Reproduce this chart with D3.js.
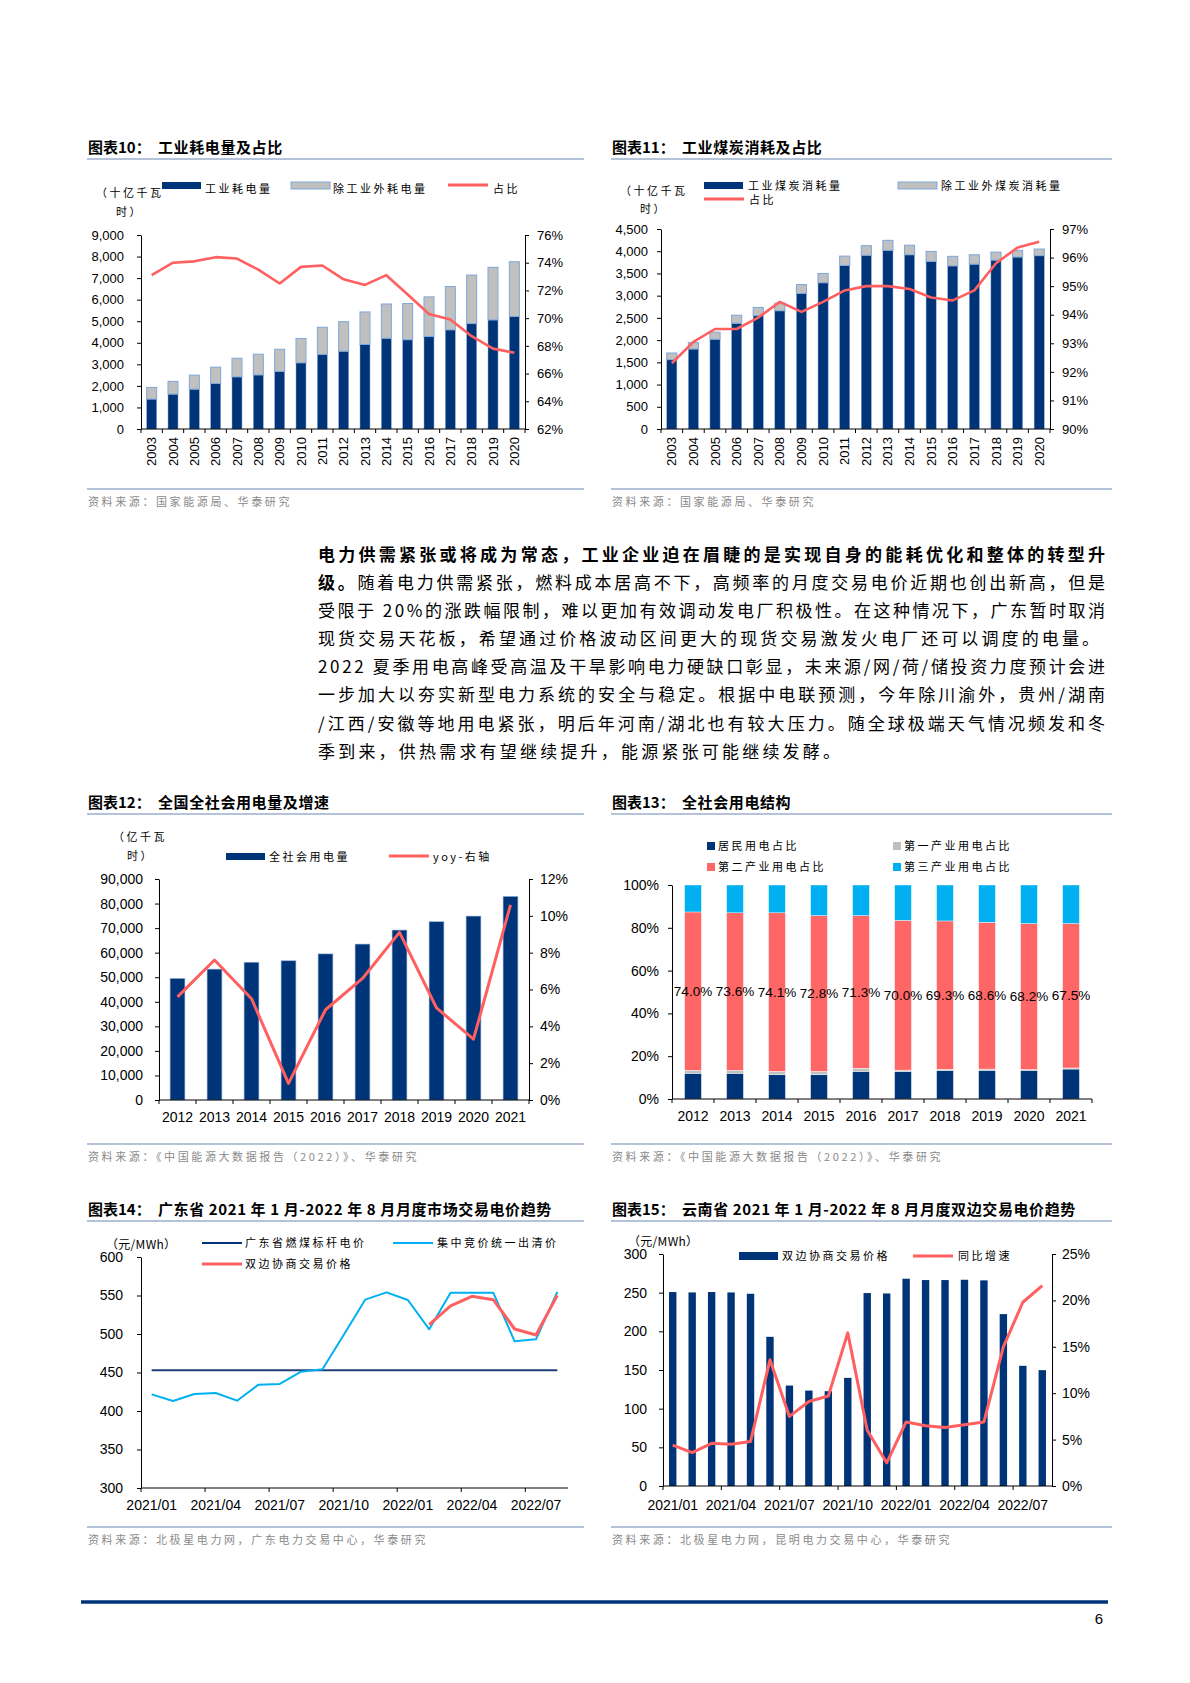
<!DOCTYPE html>
<html>
<head>
<meta charset="utf-8">
<script src="https://cdn.jsdelivr.net/npm/d3@7"></script>
<style>
  body { margin: 0; background: #fff; }
</style>
</head>
<body>
<script>
//=== Data ===
// chart 10: industrial power consumption (十亿千瓦时)
const years10 = ["2003","2004","2005","2006","2007","2008","2009","2010","2011","2012","2013","2014","2015","2016","2017","2018","2019","2020"];
const indPower10 = [1390,1620,1850,2110,2420,2510,2670,3070,3460,3610,3920,4210,4140,4290,4600,4890,5060,5220];
const otherPower10 = [540,590,650,760,860,960,1030,1130,1260,1370,1510,1590,1680,1840,2010,2250,2440,2540];
const share10 = [73.1,74.0,74.1,74.4,74.3,73.5,72.5,73.7,73.8,72.8,72.4,73.1,71.7,70.3,69.9,68.7,67.8,67.5];
const leftTicks10 = [0,1000,2000,3000,4000,5000,6000,7000,8000,9000];
const rightTicks10 = [62,64,66,68,70,72,74,76];

// chart 11: industrial coal consumption
const years11 = ["2003","2004","2005","2006","2007","2008","2009","2010","2011","2012","2013","2014","2015","2016","2017","2018","2019","2020"];
const indCoal11 = [1560,1800,2020,2380,2550,2660,3050,3290,3680,3910,4020,3920,3770,3670,3710,3800,3870,3900];
const otherCoal11 = [150,145,160,180,185,170,200,210,210,215,225,215,225,215,210,180,150,150];
const share11 = [92.3,93.05,93.5,93.5,93.9,94.45,94.1,94.45,94.85,95.0,95.0,94.9,94.6,94.5,94.85,95.8,96.35,96.55];
const leftTicks11 = [0,500,1000,1500,2000,2500,3000,3500,4000,4500];
const rightTicks11 = [90,91,92,93,94,95,96,97];

// chart 12: total power consumption (亿千瓦时) and yoy
const years12 = ["2012","2013","2014","2015","2016","2017","2018","2019","2020","2021"];
const power12 = [49500,53300,56100,56700,59500,63500,69200,72600,74900,82900];
const yoy12 = [5.6,7.6,5.5,0.9,4.9,6.6,9.1,5.0,3.3,10.6];
const leftTicks12 = [0,10000,20000,30000,40000,50000,60000,70000,80000,90000];
const rightTicks12 = [0,2,4,6,8,10,12];

// chart 13: structure of power use (%)
const years13 = ["2012","2013","2014","2015","2016","2017","2018","2019","2020","2021"];
const resident13 = [12.0,12.0,11.3,11.3,12.9,12.9,13.4,13.4,13.4,14.0];
const primary13 = [1.4,1.4,1.6,1.6,1.5,0.6,0.5,0.6,0.4,0.5];
const secondary13 = [74.0,73.6,74.1,72.8,71.3,70.0,69.3,68.6,68.2,67.5];
const tertiary13 = [12.6,13.0,13.0,14.3,14.3,16.5,16.8,17.4,18.0,18.0];
const ticks13 = [0,20,40,60,80,100];

// chart 14: Guangdong monthly prices (元/MWh)
const months = ["2021/01","2021/02","2021/03","2021/04","2021/05","2021/06","2021/07","2021/08","2021/09","2021/10",
                "2021/11","2021/12","2022/01","2022/02","2022/03","2022/04","2022/05","2022/06","2022/07","2022/08"];
const monthLabels = ["2021/01","2021/04","2021/07","2021/10","2022/01","2022/04","2022/07"];
const benchmark14 = [453,453,453,453,453,453,453,453,453,453,453,453,453,453,453,453,453,453,453,453];
const auction14 = [421.6,413.0,422.1,423.4,413.4,434.2,435.1,451.1,454.1,499.0,544.6,554.1,544.2,506.1,553.7,553.7,553.7,490.5,493.1,554.5];
const bilateral14 = [null,null,null,null,null,null,null,null,null,null,null,null,null,512.1,536.4,548.9,544.6,506.5,498.7,550.2];
const ticks14 = [300,350,400,450,500,550,600];

// chart 15: Yunnan bilateral price and yoy
const price15 = [250.8,250.3,250.8,250.3,248.6,192.9,129.9,123.4,122.6,139.8,249.5,249.0,268.0,266.3,266.3,266.7,265.9,222.3,155.4,149.8];
const yoy15 = [4.4,3.6,4.6,4.5,4.8,13.6,7.5,9.1,9.7,16.5,6.0,2.5,6.9,6.5,6.3,6.6,6.9,15.0,19.8,21.6];
const leftTicks15 = [0,50,100,150,200,250,300];
const rightTicks15 = [0,5,10,15,20,25];

// body text
const paraLines = [
  [["电力供需紧张或将成为常态，工业企业迫在眉睫的是实现自身的能耗优化和整体的转型升", true]],
  [["级。", true], ["随着电力供需紧张，燃料成本居高不下，高频率的月度交易电价近期也创出新高，但是", false]],
  [["受限于 20%的涨跌幅限制，难以更加有效调动发电厂积极性。在这种情况下，广东暂时取消", false]],
  [["现货交易天花板，希望通过价格波动区间更大的现货交易激发火电厂还可以调度的电量。", false]],
  [["2022 夏季用电高峰受高温及干旱影响电力硬缺口彰显，未来源/网/荷/储投资力度预计会进", false]],
  [["一步加大以夯实新型电力系统的安全与稳定。根据中电联预测，今年除川渝外，贵州/湖南", false]],
  [["/江西/安徽等地用电紧张，明后年河南/湖北也有较大压力。随全球极端天气情况频发和冬", false]],
  [["季到来，供热需求有望继续提升，能源紧张可能继续发酵。", false]]
];

//=== Styles ===
const NAVY = "#003478", GRAY = "#c0c0c0", EDGE = "#7fa7d9", RED = "#ff5f5f", CYAN = "#00b0f0";
const RULE = "#6d88b5", SRC = "#8a8a8a";
const CJK = "'Noto Sans CJK SC', sans-serif", LAT = "'Liberation Sans', Arial, sans-serif";

const svg = d3.select("body").append("svg")
  .attr("width", 1190).attr("height", 1683).style("display", "block");
svg.append("rect").attr("width", 1190).attr("height", 1683).attr("fill", "#fff");

//=== Helpers ===
function chartTitle(x0, x1, y, num, text) {
  const t = svg.append("text").attr("x", x0 + 1).attr("y", y).attr("dy", "0.35em")
    .attr("font-family", CJK).attr("font-weight", "bold").attr("font-size", 15).attr("fill", "#000");
  t.append("tspan").text(num);
  t.append("tspan").attr("x", x0 + 71).attr("letter-spacing", 0.6).text(text);
  svg.append("line").attr("x1", x0).attr("x2", x1).attr("y1", y + 11).attr("y2", y + 11)
    .attr("stroke", RULE).attr("stroke-width", 1.2);
}

function sourceNote(x0, x1, y, text) {
  svg.append("line").attr("x1", x0).attr("x2", x1).attr("y1", y).attr("y2", y)
    .attr("stroke", RULE).attr("stroke-width", 1.2);
  svg.append("text").attr("x", x0 + 1).attr("y", y + 13).attr("dy", "0.35em")
    .attr("font-family", CJK).attr("font-size", 11).attr("letter-spacing", 2.6)
    .attr("fill", SRC).text(text);
}

function label(x, y, s, size = 11, ls = 2.5, font = CJK) {
  return svg.append("text").attr("x", x).attr("y", y).attr("dy", "0.35em")
    .attr("font-family", font).attr("font-size", size).attr("letter-spacing", ls)
    .attr("fill", "#000").text(s);
}

function legRect(x, y, w, h, fill, stroke) {
  svg.append("rect").attr("x", x).attr("y", y).attr("width", w).attr("height", h)
    .attr("fill", fill).attr("stroke", stroke || "none");
}

function legLine(x, y, color, sw) {
  svg.append("line").attr("x1", x).attr("x2", x + 40).attr("y1", y).attr("y2", y)
    .attr("stroke", color).attr("stroke-width", sw);
}

function yAxis(x, scale, ticks, fmt, side, pad, fs) {
  const ax = (side === "left" ? d3.axisLeft(scale) : d3.axisRight(scale))
    .tickValues(ticks).tickFormat(fmt).tickSize(4).tickSizeOuter(0).tickPadding(pad);
  const g = svg.append("g").attr("transform", `translate(${x},0)`).call(ax);
  g.attr("font-family", LAT).attr("font-size", fs);
  g.select(".domain").attr("stroke", "#000");
  g.selectAll(".tick line").attr("stroke", "#000");
  g.selectAll(".tick text").attr("fill", "#000");
  return g;
}

function xBase(x0, x1, y, bounds) {
  svg.append("line").attr("x1", x0).attr("x2", x1).attr("y1", y).attr("y2", y).attr("stroke", "#000");
  svg.append("g").selectAll("line").data(bounds).join("line")
    .attr("x1", d => d).attr("x2", d => d).attr("y1", y).attr("y2", y + 4).attr("stroke", "#000");
}

// edges of each category of a band scale
function bandBounds(x, domain) {
  const half = x.bandwidth() / 2, st = x.step();
  return domain.map(d => x(d) + half - st / 2).concat([x(domain[domain.length - 1]) + half + st / 2]);
}

//=== Chart 10 / 11: stacked bars + share line ===
function stackedChart(cfg) {
  const { cats, base, rest, share, xr, yr, yMax, rDom, lt, rt, lPad, rPad } = cfg;
  const x = d3.scaleBand().domain(cats).range(xr).paddingInner(0.53).paddingOuter(0.265);
  const y = d3.scaleLinear().domain([0, yMax]).range(yr);
  const r = d3.scaleLinear().domain(rDom).range(yr);
  const bw = x.bandwidth();

  svg.append("g").selectAll("rect").data(cats).join("rect")
    .attr("x", d => x(d)).attr("width", bw)
    .attr("y", (d, i) => y(base[i])).attr("height", (d, i) => y(0) - y(base[i]))
    .attr("fill", NAVY).attr("stroke", "#8fb0dc").attr("stroke-width", 0.5);
  svg.append("g").selectAll("rect").data(cats).join("rect")
    .attr("x", d => x(d)).attr("width", bw)
    .attr("y", (d, i) => y(base[i] + rest[i]))
    .attr("height", (d, i) => y(base[i]) - y(base[i] + rest[i]))
    .attr("fill", GRAY).attr("stroke", EDGE).attr("stroke-width", 1);

  const line = d3.line().x((d, i) => x(cats[i]) + bw / 2).y(d => r(d));
  svg.append("path").datum(share).attr("d", line)
    .attr("fill", "none").attr("stroke", RED).attr("stroke-width", 2.6).attr("stroke-linejoin", "round");

  yAxis(xr[0], y, lt, d3.format(","), "left", lPad, 13);
  yAxis(xr[1], r, rt, d => d + "%", "right", rPad, 13);
  xBase(xr[0], xr[1], yr[0], bandBounds(x, cats));

  svg.append("g").selectAll("text").data(cats).join("text")
    .attr("transform", d => `translate(${x(d) + bw / 2},${yr[0] + 8}) rotate(-90)`)
    .attr("text-anchor", "end").attr("dy", "0.35em")
    .attr("font-family", LAT).attr("font-size", 13).attr("fill", "#000").text(d => d);
}

chartTitle(87, 584, 148, "图表10：", "工业耗电量及占比");
legRect(162, 182, 39, 7, NAVY);
label(205, 189, "工业耗电量");
legRect(291, 182, 39, 7, GRAY, EDGE);
label(333, 189, "除工业外耗电量");
legLine(448, 185, RED, 3);
label(493, 189, "占比");
label(96, 193, "（十亿千瓦");
label(116, 212, "时）");
stackedChart({ cats: years10, base: indPower10, rest: otherPower10, share: share10,
  xr: [141, 525], yr: [429, 235], yMax: 9000, rDom: [62, 76],
  lt: leftTicks10, rt: rightTicks10, lPad: 13, rPad: 8 });
sourceNote(87, 584, 489, "资料来源：国家能源局、华泰研究");

chartTitle(611, 1112, 148, "图表11：", "工业煤炭消耗及占比");
legRect(704, 182, 39, 7, NAVY);
label(748, 186, "工业煤炭消耗量");
legRect(898, 182, 39, 7, GRAY, EDGE);
label(941, 186, "除工业外煤炭消耗量");
legLine(704, 199, RED, 3);
label(749, 200, "占比");
label(620, 191, "（十亿千瓦");
label(640, 209, "时）");
stackedChart({ cats: years11, base: indCoal11, rest: otherCoal11, share: share11,
  xr: [661, 1050], yr: [429, 229], yMax: 4500, rDom: [90, 97],
  lt: leftTicks11, rt: rightTicks11, lPad: 9, rPad: 8 });
sourceNote(611, 1112, 489, "资料来源：国家能源局、华泰研究");

//=== Body paragraph ===
paraLines.forEach((parts, i) => {
  const t = svg.append("text").attr("x", 318).attr("y", 555 + i * 28.1).attr("dy", "0.35em")
    .attr("font-family", CJK).attr("font-size", 17).attr("fill", "#000");
  if (i < 7) t.attr("textLength", i === 3 ? 781 : 787).attr("lengthAdjust", "spacing");
  else t.attr("letter-spacing", 3.2);
  parts.forEach(([s, bold]) => t.append("tspan").attr("font-weight", bold ? "bold" : "normal").text(s));
});

//=== Chart 12: total consumption + yoy ===
chartTitle(87, 584, 803, "图表12：", "全国全社会用电量及增速");
label(113, 837, "（亿千瓦");
label(127, 856, "时）");
legRect(226, 853, 39, 7, NAVY);
label(269, 857, "全社会用电量");
legLine(389, 856, RED, 3);
label(433, 857, "yoy-右轴");
{
  const x = d3.scaleBand().domain(years12).range([159, 529]).paddingInner(0.6).paddingOuter(0.3);
  const y = d3.scaleLinear().domain([0, 90000]).range([1100, 879]);
  const r = d3.scaleLinear().domain([0, 12]).range([1100, 879]);
  const bw = x.bandwidth();
  svg.append("g").selectAll("rect").data(years12).join("rect")
    .attr("x", d => x(d)).attr("width", bw)
    .attr("y", (d, i) => y(power12[i])).attr("height", (d, i) => y(0) - y(power12[i]))
    .attr("fill", NAVY).attr("stroke", "#8fb0dc").attr("stroke-width", 0.6);
  svg.append("path").datum(yoy12)
    .attr("d", d3.line().x((d, i) => x(years12[i]) + bw / 2).y(d => r(d)))
    .attr("fill", "none").attr("stroke", RED).attr("stroke-width", 3).attr("stroke-linejoin", "round");
  yAxis(159, y, leftTicks12, d3.format(","), "left", 12, 14);
  yAxis(529, r, rightTicks12, d => d + "%", "right", 7, 14);
  xBase(159, 529, 1100, bandBounds(x, years12));
  svg.append("g").selectAll("text").data(years12).join("text")
    .attr("x", d => x(d) + bw / 2).attr("y", 1117).attr("dy", "0.35em").attr("text-anchor", "middle")
    .attr("font-family", LAT).attr("font-size", 14).attr("fill", "#000").text(d => d);
}
sourceNote(87, 584, 1144, "资料来源：《中国能源大数据报告（2022）》、华泰研究");

//=== Chart 13: 100% stacked structure ===
chartTitle(611, 1112, 803, "图表13：", "全社会用电结构");
legRect(707, 842, 8, 8, NAVY);
label(718, 846, "居民用电占比");
legRect(893, 842, 8, 8, GRAY);
label(904, 846, "第一产业用电占比");
legRect(707, 863, 8, 8, "#ff6666");
label(718, 867, "第二产业用电占比");
legRect(893, 863, 8, 8, CYAN);
label(904, 867, "第三产业用电占比");
{
  const x = d3.scaleBand().domain(years13).range([672, 1092]).paddingInner(0.6).paddingOuter(0.3);
  const y = d3.scaleLinear().domain([0, 100]).range([1099, 885]);
  const bw = x.bandwidth();
  const rows = years13.map((yr, i) => ({ yr, r: resident13[i], p: primary13[i], s: secondary13[i], t: tertiary13[i] }));
  const stack = d3.stack().keys(["r", "p", "s", "t"])(rows);
  const fills = { r: NAVY, p: GRAY, s: "#ff6666", t: CYAN };
  svg.append("g").selectAll("g").data(stack).join("g").attr("fill", d => fills[d.key])
    .selectAll("rect").data(d => d).join("rect")
    .attr("x", d => x(d.data.yr)).attr("width", bw)
    .attr("y", d => y(d[1])).attr("height", d => y(d[0]) - y(d[1]))
    .attr("stroke", "#fff").attr("stroke-width", 0.4);
  svg.append("g").selectAll("text").data(rows).join("text")
    .attr("x", d => x(d.yr) + bw / 2).attr("y", d => y(d.r + d.p + d.s / 2)).attr("dy", "0.35em")
    .attr("text-anchor", "middle").attr("font-family", LAT).attr("font-size", 13.5).attr("fill", "#000")
    .text(d => d.s.toFixed(1) + "%");
  yAxis(672, y, ticks13, d => d + "%", "left", 9, 14);
  xBase(672, 1092, 1099, bandBounds(x, years13));
  svg.append("g").selectAll("text").data(years13).join("text")
    .attr("x", d => x(d) + bw / 2).attr("y", 1116).attr("dy", "0.35em").attr("text-anchor", "middle")
    .attr("font-family", LAT).attr("font-size", 14).attr("fill", "#000").text(d => d);
}
sourceNote(611, 1112, 1144, "资料来源：《中国能源大数据报告（2022）》、华泰研究");

//=== Chart 14: Guangdong prices ===
chartTitle(87, 584, 1210, "图表14：", "广东省 2021 年 1 月-2022 年 8 月月度市场交易电价趋势");
label(106, 1245, "（元/MWh）", 12, 0.3);
legLine(202, 1243, NAVY, 2);
label(245, 1243, "广东省燃煤标杆电价");
legLine(393, 1243, CYAN, 2);
label(437, 1243, "集中竞价统一出清价");
legLine(202, 1264, RED, 3);
label(245, 1264, "双边协商交易价格");
{
  const x = d3.scaleBand().domain(months).range([141, 568]);
  const y = d3.scaleLinear().domain([300, 600]).range([1488, 1257]);
  const bw = x.bandwidth();
  const line = d3.line().defined(d => d != null).x((d, i) => x(months[i]) + bw / 2).y(d => y(d));
  svg.append("path").datum(benchmark14).attr("d", line)
    .attr("fill", "none").attr("stroke", "#1f3f7a").attr("stroke-width", 2);
  svg.append("path").datum(auction14).attr("d", line)
    .attr("fill", "none").attr("stroke", CYAN).attr("stroke-width", 2).attr("stroke-linejoin", "round");
  svg.append("path").datum(bilateral14).attr("d", line)
    .attr("fill", "none").attr("stroke", RED).attr("stroke-width", 3).attr("stroke-linejoin", "round");
  yAxis(141, y, ticks14, d3.format("d"), "left", 14, 14);
  xBase(141, 568, 1488, monthLabels.map(m => x(m)));
  svg.append("g").selectAll("text").data(monthLabels).join("text")
    .attr("x", d => x(d) + bw / 2).attr("y", 1505).attr("dy", "0.35em").attr("text-anchor", "middle")
    .attr("font-family", LAT).attr("font-size", 14).attr("fill", "#000").text(d => d);
}
sourceNote(87, 584, 1527, "资料来源：北极星电力网，广东电力交易中心，华泰研究");

//=== Chart 15: Yunnan bilateral price ===
chartTitle(611, 1112, 1210, "图表15：", "云南省 2021 年 1 月-2022 年 8 月月度双边交易电价趋势");
label(628, 1242, "（元/MWh）", 12, 0.3);
legRect(739, 1252, 39, 8, NAVY);
label(782, 1256, "双边协商交易价格");
legLine(913, 1256, RED, 3);
label(958, 1256, "同比增速");
{
  const x = d3.scaleBand().domain(months).range([663, 1052]).paddingInner(0.62).paddingOuter(0.31);
  const y = d3.scaleLinear().domain([0, 300]).range([1486, 1254]);
  const r = d3.scaleLinear().domain([0, 25]).range([1486, 1254]);
  const bw = x.bandwidth(), st = x.step();
  svg.append("g").selectAll("rect").data(months).join("rect")
    .attr("x", d => x(d)).attr("width", bw)
    .attr("y", (d, i) => y(price15[i])).attr("height", (d, i) => y(0) - y(price15[i]))
    .attr("fill", NAVY);
  svg.append("path").datum(yoy15)
    .attr("d", d3.line().x((d, i) => x(months[i]) + bw / 2).y(d => r(d)))
    .attr("fill", "none").attr("stroke", RED).attr("stroke-width", 3).attr("stroke-linejoin", "round");
  yAxis(663, y, leftTicks15, d3.format("d"), "left", 12, 14);
  yAxis(1052, r, rightTicks15, d => d + "%", "right", 6, 14);
  xBase(663, 1052, 1486, monthLabels.map(m => x(m) + bw / 2 - st / 2));
  svg.append("g").selectAll("text").data(monthLabels).join("text")
    .attr("x", d => x(d) + bw / 2).attr("y", 1505).attr("dy", "0.35em").attr("text-anchor", "middle")
    .attr("font-family", LAT).attr("font-size", 14).attr("fill", "#000").text(d => d);
}
sourceNote(611, 1112, 1527, "资料来源：北极星电力网，昆明电力交易中心，华泰研究");

//=== Footer ===
svg.append("line").attr("x1", 81).attr("x2", 1108).attr("y1", 1602).attr("y2", 1602)
  .attr("stroke", NAVY).attr("stroke-width", 3.5);
svg.append("text").attr("x", 1103).attr("y", 1619).attr("dy", "0.35em").attr("text-anchor", "end")
  .attr("font-family", LAT).attr("font-size", 15).attr("fill", "#000").text("6");
</script>
</body>
</html>
